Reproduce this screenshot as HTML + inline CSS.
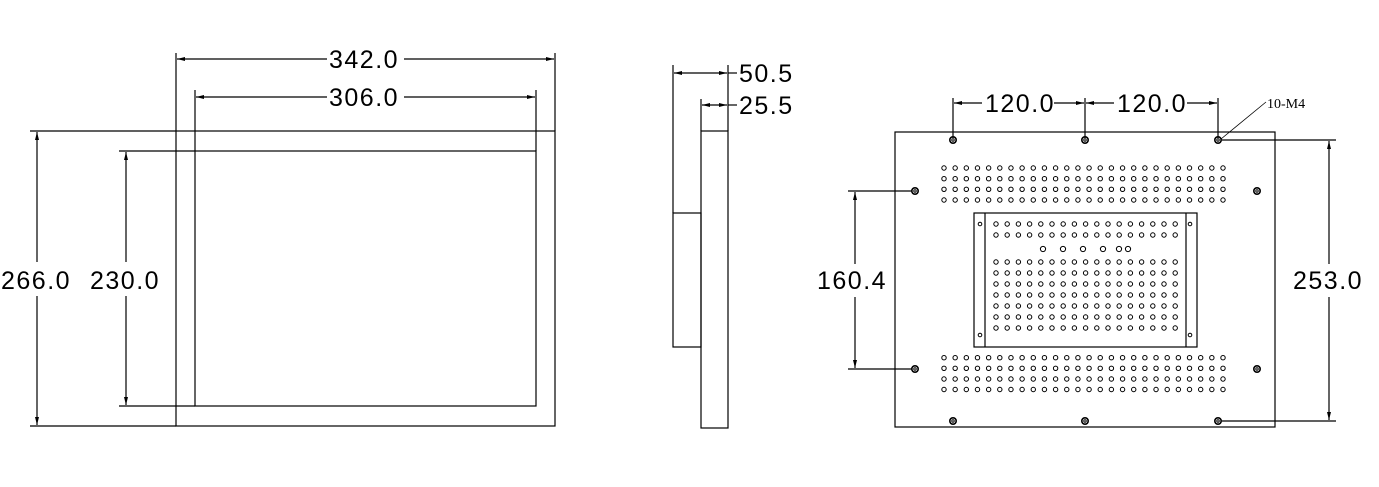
<!DOCTYPE html>
<html><head><meta charset="utf-8"><style>
html,body{margin:0;padding:0;background:#fff;}
svg{display:block;}
text{font-family:"Liberation Sans",sans-serif;font-size:25px;fill:#000;letter-spacing:1.5px;}
</style></head><body>
<svg id="s" width="1379" height="487" viewBox="0 0 1379 487" xmlns="http://www.w3.org/2000/svg">
<defs>
<marker id="a" viewBox="0 0 10 6" refX="10" refY="3" markerWidth="8" markerHeight="5" orient="auto-start-reverse" markerUnits="userSpaceOnUse"><path d="M0,0.5 L10,3 L0,5.5z" fill="#000"/></marker>
</defs>
<g stroke="#000" stroke-width="1.2" fill="none">
<rect x="176" y="131" width="379" height="295"/>
<rect x="195" y="151" width="341" height="255"/>
<line x1="176" y1="53" x2="176" y2="131"/><line x1="555" y1="53" x2="555" y2="131"/>
<line x1="195" y1="90" x2="195" y2="151"/><line x1="536" y1="90" x2="536" y2="151"/>
<line x1="30" y1="131" x2="176" y2="131"/><line x1="30" y1="426" x2="176" y2="426"/>
<line x1="119" y1="151" x2="195" y2="151"/><line x1="119" y1="406" x2="195" y2="406"/>
<line x1="177" y1="59" x2="327" y2="59" marker-start="url(#a)"/><line x1="404" y1="59" x2="554" y2="59" marker-end="url(#a)"/>
<line x1="196" y1="97" x2="327" y2="97" marker-start="url(#a)"/><line x1="404" y1="97" x2="535" y2="97" marker-end="url(#a)"/>
<line x1="37" y1="132" x2="37" y2="262" marker-start="url(#a)"/><line x1="37" y1="296" x2="37" y2="425" marker-end="url(#a)"/>
<line x1="126" y1="152" x2="126" y2="262" marker-start="url(#a)"/><line x1="126" y1="296" x2="126" y2="405" marker-end="url(#a)"/>
<rect x="701" y="131" width="27" height="297"/>
<rect x="673" y="213" width="28" height="134"/>
<line x1="673" y1="65" x2="673" y2="213"/><line x1="728" y1="65" x2="728" y2="131"/>
<line x1="701" y1="99" x2="701" y2="131"/>
<line x1="674" y1="73" x2="727" y2="73" marker-start="url(#a)" marker-end="url(#a)"/><line x1="728" y1="73" x2="737" y2="73"/>
<line x1="702" y1="105" x2="727" y2="105" marker-start="url(#a)" marker-end="url(#a)"/><line x1="728" y1="105" x2="737" y2="105"/>
<rect x="895" y="132" width="380" height="295"/>
<rect x="974" y="213" width="223" height="134"/>
<line x1="985" y1="213" x2="985" y2="347"/><line x1="1186" y1="213" x2="1186" y2="347"/>
<line x1="953" y1="98" x2="953" y2="138"/><line x1="1085" y1="98" x2="1085" y2="138"/><line x1="1218" y1="98" x2="1218" y2="138"/>
<line x1="954" y1="103" x2="982" y2="103" marker-start="url(#a)"/><line x1="1054" y1="103" x2="1084" y2="103" marker-end="url(#a)"/>
<line x1="1086" y1="103" x2="1114" y2="103" marker-start="url(#a)"/><line x1="1187" y1="103" x2="1217" y2="103" marker-end="url(#a)"/>
<line x1="1222" y1="140" x2="1336" y2="140"/><line x1="1222" y1="421" x2="1336" y2="421"/>
<line x1="1329" y1="141" x2="1329" y2="264" marker-start="url(#a)"/><line x1="1329" y1="297" x2="1329" y2="420" marker-end="url(#a)"/>
<line x1="848" y1="191" x2="912" y2="191"/><line x1="848" y1="369" x2="912" y2="369"/>
<line x1="855" y1="192" x2="855" y2="264" marker-start="url(#a)"/><line x1="855" y1="297" x2="855" y2="368" marker-end="url(#a)"/>
<line x1="1221" y1="139" x2="1266" y2="102" stroke-width="0.8"/>
<g id="holes" stroke-width="1"></g>
</g>
<text x="329" y="68">342.0</text>
<text x="329" y="106">306.0</text>
<text x="1" y="289">266.0</text>
<text x="90" y="289">230.0</text>
<text x="739" y="82">50.5</text>
<text x="739" y="114">25.5</text>
<text x="985" y="112">120.0</text>
<text x="1117" y="112">120.0</text>
<text x="817" y="289">160.4</text>
<text x="1293" y="289">253.0</text>
<text x="1267" y="108" style="font-family:'Liberation Serif',serif;font-size:14px;letter-spacing:0">10-M4</text>
</svg>
<script>
var g=document.getElementById('holes'),h='';
function c(x,y,r,sw){h+='<circle cx="'+x+'" cy="'+y+'" r="'+r+'"'+(sw?' stroke-width="'+sw+'"':'')+'/>';}
var rows=[168,178.7,189.3,200,357.7,368.3,379,389.5];
rows.forEach(function(y){for(var i=0;i<26;i++)c(944+i*11.16,y,2.2);});
var ir=[224,235,262,273,284,295,306,317,328];
ir.forEach(function(y){for(var i=0;i<17;i++)c(996+i*11.2,y,2.2);});
[1043,1063,1083,1103,1119,1128].forEach(function(x){c(x,249,2.6);});
[[980,224],[1190,224],[980,335],[1190,335]].forEach(function(p){c(p[0],p[1],1.8);});
[[953,140],[1085,140],[1218,140],[915,191],[1257,191],[915,369],[1257,369],[953,421],[1085,421],[1218,421]].forEach(function(p){c(p[0],p[1],3.2,1.6);c(p[0],p[1],1.2,1);});
g.innerHTML=h;
</script>
</body></html>
